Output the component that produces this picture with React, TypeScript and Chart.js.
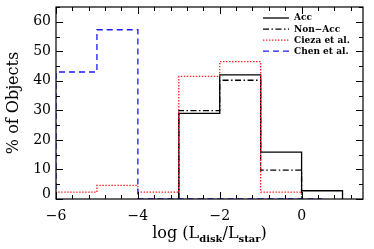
import React, { useEffect, useRef } from "react";
import { Chart, registerables } from "chart.js";

Chart.register(...registerables);

// Bin edges (log Ldisk/Lstar) and histogram values (% of objects)
const accEdges = [-3, -2, -1, 0, 1];
const accValues = [29, 42, 15.9, 2.8];

const nonAccEdges = [-3, -2, -1, 0];
const nonAccValues = [29.9, 40.2, 9.8];

const ciezaEdges = [-6, -5, -4, -3, -2, -1, 0];
const ciezaValues = [2.3, 4.6, 2.3, 41.5, 46.5, 2.3];

const chenEdges = [-6, -5, -4, -3, -2, -1, 0, 0.5];
const chenValues = [43, 57.3, 0, 0, 0, 0, 0];

const xTickValues = [-6, -4, -2, 0];
const yTickValues = [0, 10, 20, 30, 40, 50, 60];
const legendLabels = ["Acc", "Non\u2212Acc", "Cieza et al.", "Chen et al."];

const X_MIN = -6;
const X_MAX = 1.5;
const Y_MIN = 0;
const Y_MAX = 65;

function stepPoints(edges: number[], values: number[]) {
  const pts: { x: number; y: number }[] = [{ x: edges[0], y: 0 }];
  values.forEach((v, i) => pts.push({ x: edges[i], y: v }));
  const last = edges[edges.length - 1];
  pts.push({ x: last, y: values[values.length - 1] });
  pts.push({ x: last, y: 0 });
  return pts;
}

const styles = [
  { color: "#000000", dash: [] as number[] },
  { color: "#000000", dash: [6, 2.5, 1.5, 2.5] },
  { color: "#ff1a1a", dash: [1.4, 1.6] },
  { color: "#1a1aff", dash: [6, 4] },
];

const framePlugin = {
  id: "frameTicks",
  afterDatasetsDraw(chart: any) {
    const { ctx, chartArea: a, scales } = chart;
    const xs = scales.x;
    const ys = scales.y;
    ctx.save();
    ctx.strokeStyle = "#000";
    ctx.lineWidth = 1.2;
    ctx.setLineDash([]);
    ctx.strokeRect(a.left, a.top, a.right - a.left, a.bottom - a.top);
    ctx.lineWidth = 1;
    ctx.beginPath();
    // x ticks: minor every 0.4
    for (let k = 0; k <= 20; k++) {
      const v = X_MIN + k * 0.4;
      if (v > X_MAX + 1e-6) break;
      const major = xTickValues.some((t) => Math.abs(t - v) < 1e-6);
      const len = major ? 7 : 4;
      const px = Math.round(xs.getPixelForValue(v)) + 0.5;
      ctx.moveTo(px, a.bottom);
      ctx.lineTo(px, a.bottom - len);
      ctx.moveTo(px, a.top);
      ctx.lineTo(px, a.top + len);
    }
    // y ticks: minor every 5
    for (let v = Y_MIN; v <= Y_MAX; v += 5) {
      const major = yTickValues.includes(v);
      const len = major ? 7 : 4;
      const py = Math.round(ys.getPixelForValue(v)) + 0.5;
      ctx.moveTo(a.left, py);
      ctx.lineTo(a.left + len, py);
      ctx.moveTo(a.right, py);
      ctx.lineTo(a.right - len, py);
    }
    ctx.stroke();

    // y tick labels
    ctx.fillStyle = "#000";
    ctx.font = "14px 'DejaVu Serif'";
    ctx.textAlign = "right";
    ctx.textBaseline = "middle";
    yTickValues.forEach((v) => {
      let py = ys.getPixelForValue(v);
      if (py > a.bottom - 5) py = a.bottom - 5;
      ctx.fillText(String(v), a.left - 5, py);
    });

    // legend
    const lx0 = 263;
    const lx1 = 289;
    const tx = 294;
    const rows = [18, 29.2, 40.2, 51.2];
    ctx.font = "bold 9px 'DejaVu Serif'";
    ctx.textBaseline = "middle";
    ctx.textAlign = "left";
    legendLabels.forEach((lab, i) => {
      const s = styles[i];
      ctx.beginPath();
      ctx.strokeStyle = s.color;
      ctx.lineWidth = 1.3;
      ctx.setLineDash(s.dash);
      ctx.moveTo(lx0, rows[i]);
      ctx.lineTo(lx1, rows[i]);
      ctx.stroke();
      ctx.setLineDash([]);
      ctx.fillStyle = "#000";
      ctx.fillText(lab, tx, rows[i]);
    });

    // x title with subscripts
    const cx = (a.left + a.right) / 2;
    const parts: { t: string; font: string; dy: number }[] = [
      { t: "log (L", font: "16px 'DejaVu Serif'", dy: 0 },
      { t: "disk", font: "bold 10px 'DejaVu Serif'", dy: 4 },
      { t: "/L", font: "16px 'DejaVu Serif'", dy: 0 },
      { t: "star", font: "bold 10px 'DejaVu Serif'", dy: 4 },
      { t: ")", font: "16px 'DejaVu Serif'", dy: 0 },
    ];
    let total = 0;
    parts.forEach((p) => {
      ctx.font = p.font;
      total += ctx.measureText(p.t).width;
    });
    let x = cx - total / 2;
    const base = 238;
    ctx.textBaseline = "alphabetic";
    parts.forEach((p) => {
      ctx.font = p.font;
      ctx.fillText(p.t, x, base + p.dy);
      x += ctx.measureText(p.t).width;
    });

    // y title
    ctx.save();
    ctx.translate(18, (a.top + a.bottom) / 2);
    ctx.rotate(-Math.PI / 2);
    ctx.font = "16px 'DejaVu Serif'";
    ctx.textAlign = "center";
    ctx.textBaseline = "alphabetic";
    ctx.fillText("% of Objects", 0, 0);
    ctx.restore();

    ctx.restore();
  },
};

export default function App() {
  const ref = useRef<HTMLCanvasElement | null>(null);
  useEffect(() => {
    if (!ref.current) return;
    const series = [
      stepPoints(accEdges, accValues),
      stepPoints(nonAccEdges, nonAccValues),
      stepPoints(ciezaEdges, ciezaValues),
      stepPoints(chenEdges, chenValues),
    ];
    const order = [3, 2, 1, 0];
    const chart = new Chart(ref.current, {
      type: "line",
      data: {
        datasets: order.map((i) => ({
          label: legendLabels[i],
          data: series[i],
          stepped: "before" as const,
          borderColor: styles[i].color,
          borderDash: styles[i].dash,
          borderWidth: 1.3,
          pointRadius: 0,
          fill: false,
        })),
      },
      options: {
        animation: false,
        responsive: false,
        maintainAspectRatio: false,
        layout: { padding: { top: 7, right: 11, left: 0, bottom: 0 } },
        plugins: { legend: { display: false }, tooltip: { enabled: false } },
        scales: {
          x: {
            type: "linear",
            min: X_MIN,
            max: X_MAX,
            grid: { display: false, drawTicks: false },
            border: { display: false },
            ticks: {
              color: "#000",
              font: { family: "'DejaVu Serif'", size: 14 },
              padding: 9,
              maxRotation: 0,
              callback: (v: any) => (v < 0 ? "\u2212" + Math.abs(v) : String(v)),
            },
            afterBuildTicks: (s: any) => {
              s.ticks = xTickValues.map((v) => ({ value: v }));
            },
            afterFit: (s: any) => {
              s.height = 50;
            },
          },
          y: {
            type: "linear",
            min: Y_MIN,
            max: Y_MAX,
            grid: { display: false, drawTicks: false },
            border: { display: false },
            ticks: { display: false },
            afterBuildTicks: (s: any) => {
              s.ticks = yTickValues.map((v) => ({ value: v }));
            },
            afterFit: (s: any) => {
              s.width = 56;
            },
          },
        },
      },
      plugins: [framePlugin],
    });
    return () => chart.destroy();
  }, []);
  return (
    <div style={{ position: "fixed", left: 0, top: 0, width: 374, height: 249, background: "#fff" }}>
      <canvas ref={ref} width={374} height={249} style={{ width: 374, height: 249 }} />
    </div>
  );
}
